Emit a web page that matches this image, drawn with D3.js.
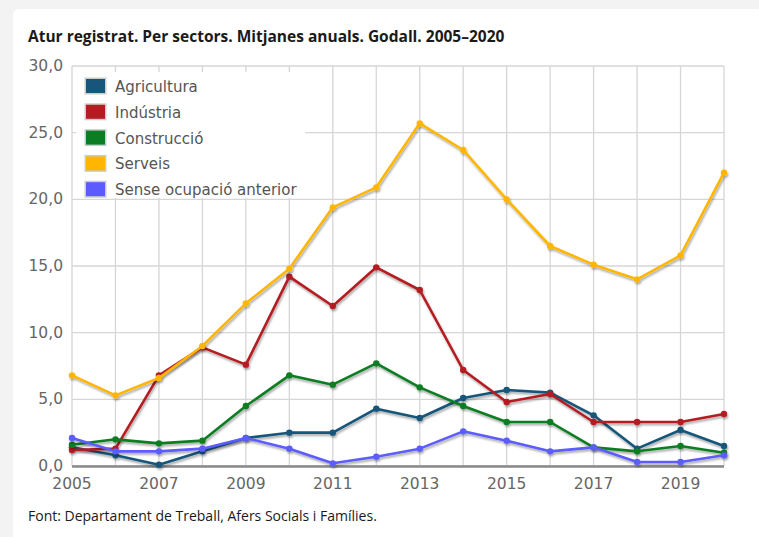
<!DOCTYPE html>
<html>
<head>
<meta charset="utf-8">
<script src="https://cdn.jsdelivr.net/npm/d3@7"></script>
<style>
  body { margin: 0; background: #f3f3f3; }
  #card { position: absolute; left: 13px; top: 9px; width: 760px; height: 540px; background: #fff; border-radius: 6px; }
  svg { position: absolute; left: 0; top: 0; }
</style>
</head>
<body>
<div id="card"></div>
<svg width="759" height="537"></svg>
<script>
// years and series (mitjanes anuals, Godall)
const years = d3.range(2005, 2021);
const agricultura = [1.4, 0.8, 0.1, 1.1, 2.1, 2.5, 2.5, 4.3, 3.6, 5.1, 5.7, 5.5, 3.8, 1.3, 2.7, 1.5];
const industria   = [1.2, 1.3, 6.8, 8.9, 7.6, 14.2, 12.0, 14.9, 13.2, 7.2, 4.8, 5.4, 3.3, 3.3, 3.3, 3.9];
const construccio = [1.6, 2.0, 1.7, 1.9, 4.5, 6.8, 6.1, 7.7, 5.9, 4.5, 3.3, 3.3, 1.4, 1.1, 1.5, 1.0];
const serveis     = [6.8, 5.3, 6.6, 9.0, 12.2, 14.8, 19.4, 20.9, 25.7, 23.7, 20.0, 16.5, 15.1, 14.0, 15.8, 22.0];
const senseOcup   = [2.1, 1.1, 1.1, 1.3, 2.1, 1.3, 0.2, 0.7, 1.3, 2.6, 1.9, 1.1, 1.4, 0.3, 0.3, 0.8];
const seriesNames = ['Agricultura', 'Indústria', 'Construcció', 'Serveis', 'Sense ocupació anterior'];
const colors = ['#17567a', '#b51c21', '#0b7d22', '#ffb600', '#5b5bff'];
const yTicks = [0, 5, 10, 15, 20, 25, 30];
const xTicks = [2005, 2007, 2009, 2011, 2013, 2015, 2017, 2019];

const series = [agricultura, industria, construccio, serveis, senseOcup];

const svg = d3.select('svg');
const margin = {left: 72, right: 35, top: 66, bottom: 71};
const width = 759 - margin.left - margin.right;
const height = 537 - margin.top - margin.bottom;

const x = d3.scaleLinear().domain([2005, 2020]).range([margin.left, margin.left + width]);
const y = d3.scaleLinear().domain([0, 30]).range([margin.top + height, margin.top]);

// shadow filter for lines
const defs = svg.append('defs');
const f = defs.append('filter').attr('id', 'shadow').attr('x', '-5%').attr('y', '-5%').attr('width', '110%').attr('height', '120%');
f.append('feGaussianBlur').attr('in', 'SourceAlpha').attr('stdDeviation', 1.2).attr('result', 'b');
f.append('feOffset').attr('in', 'b').attr('dx', 1).attr('dy', 2).attr('result', 'o');
f.append('feComponentTransfer').attr('in', 'o').attr('result', 'o2')
  .append('feFuncA').attr('type', 'linear').attr('slope', 0.35);
const fm = f.append('feMerge');
fm.append('feMergeNode').attr('in', 'o2');
fm.append('feMergeNode').attr('in', 'SourceGraphic');

// title
svg.append('text')
    .attr('x', 28).attr('y', 42)
    .attr('font-family', '"Open Sans", sans-serif')
    .attr('font-weight', 'bold')
    .attr('font-size', '15.5px')
    .attr('fill', '#1a1a1a')
    .text('Atur registrat. Per sectors. Mitjanes anuals. Godall. 2005–2020');

// gridlines
const grid = svg.append('g');
grid.selectAll('.vg').data(years).join('line')
    .attr('x1', d => x(d)).attr('x2', d => x(d))
    .attr('y1', y(30)).attr('y2', y(0))
    .attr('stroke', '#d6d6d6').attr('stroke-width', 1.3);
grid.selectAll('.hg').data(yTicks).join('line')
    .attr('x1', x(2005)).attr('x2', x(2020))
    .attr('y1', d => y(d)).attr('y2', d => y(d))
    .attr('stroke', '#d6d6d6').attr('stroke-width', 1.3);

// x axis line
svg.append('line')
    .attr('x1', x(2005)).attr('x2', x(2020))
    .attr('y1', y(0) + 0.5).attr('y2', y(0) + 0.5)
    .attr('stroke', '#8a8a8a').attr('stroke-width', 2.5);

// tick labels
svg.append('g').selectAll('text').data(yTicks).join('text')
    .attr('x', 63).attr('y', d => y(d) + 5)
    .attr('text-anchor', 'end')
    .attr('font-family', '"DejaVu Sans", Verdana, sans-serif')
    .attr('font-size', '15.5px')
    .attr('fill', '#666')
    .text(d => d3.format('.1f')(d).replace('.', ','));
svg.append('g').selectAll('text').data(xTicks).join('text')
    .attr('x', d => x(d)).attr('y', 489)
    .attr('text-anchor', 'middle')
    .attr('font-family', '"DejaVu Sans", Verdana, sans-serif')
    .attr('font-size', '15.5px')
    .attr('fill', '#666')
    .text(d => d);

// legend background (hides gridlines)
const legend = svg.append('g');
legend.append('rect')
    .attr('x', 76).attr('y', 72).attr('width', 229).attr('height', 126)
    .attr('fill', '#fff');

// lines
const line = d3.line().x((d, i) => x(years[i])).y(d => y(d));
const plot = svg.append('g');
series.forEach((s, k) => {
  const g = plot.append('g').attr('filter', 'url(#shadow)');
  g.append('path')
      .datum(s)
      .attr('fill', 'none')
      .attr('stroke', colors[k])
      .attr('stroke-width', 2.6)
      .attr('stroke-linejoin', 'round')
      .attr('d', line);
  g.selectAll('circle').data(s).join('circle')
      .attr('cx', (d, i) => x(years[i]))
      .attr('cy', d => y(d))
      .attr('r', 3.2)
      .attr('fill', colors[k]);
});

// legend items
seriesNames.forEach((name, k) => {
  const yy = 78 + k * 25.8;
  legend.append('rect')
      .attr('x', 84.5).attr('y', yy - 0.5).attr('width', 22).attr('height', 17)
      .attr('fill', '#ccc');
  legend.append('rect')
      .attr('x', 86).attr('y', yy + 1).attr('width', 19).attr('height', 14)
      .attr('fill', colors[k]);
  legend.append('text')
      .attr('x', 115).attr('y', yy + 14)
      .attr('font-family', '"DejaVu Sans", Verdana, sans-serif')
      .attr('font-size', '15px')
      .attr('fill', '#555')
      .text(name);
});

// source
svg.append('text')
    .attr('x', 28).attr('y', 521)
    .attr('font-family', '"Open Sans", sans-serif')
    .attr('font-size', '14px')
    .attr('fill', '#1a1a1a')
    .text('Font: Departament de Treball, Afers Socials i Famílies.');
</script>
</body>
</html>
